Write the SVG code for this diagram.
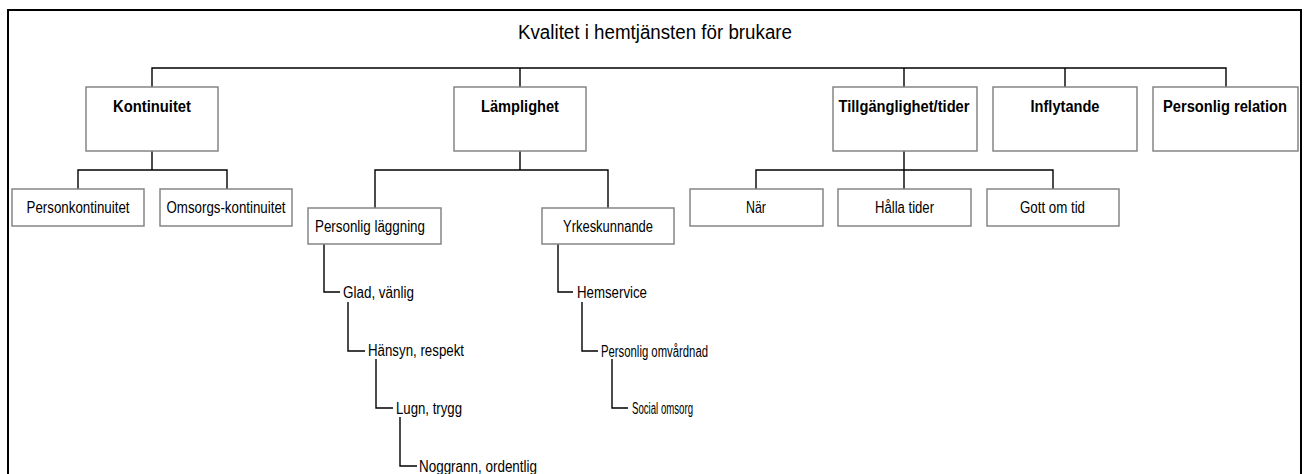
<svg xmlns="http://www.w3.org/2000/svg" width="1307" height="474" viewBox="0 0 1307 474">
<style>
.frame{fill:none;stroke:#000;stroke-width:2}
.box{fill:#fff;stroke:#858585;stroke-width:1.5}
.con{fill:none;stroke:#000;stroke-width:1.4}
text{font-family:"Liberation Sans",Arial,sans-serif;fill:#000}
.t{font-size:20px;text-anchor:middle}
.h{font-size:16px;font-weight:bold;text-anchor:middle}
.c{font-size:16px;text-anchor:middle}
.l{font-size:16px}
</style>
<rect class="frame" x="8" y="10" width="1293" height="480"/>
<text class="t" x="655" y="39" textLength="274" lengthAdjust="spacingAndGlyphs">Kvalitet i hemtjänsten för brukare</text>
<g id="connectors">
<path class="con" d="M152,87V68H1226V87M520,68V87M904,68V87M1065,68V87"/>
<path class="con" d="M152,151V170M78,189V170H227V189"/>
<path class="con" d="M520,151V170M375,208V170H608V208"/>
<path class="con" d="M904,151V189M756,189V170H1053V189"/>
<path class="con" d="M324,244V292H340M348,302V351H365M376,359V408H393M400,417V466H417"/>
<path class="con" d="M558,244V292H573M582,302V351H598M612,359V408H628"/>
</g>
<g id="kontinuitet"><rect class="box" x="86" y="87" width="132" height="64"/><text class="h" x="152" y="112" textLength="78" lengthAdjust="spacingAndGlyphs">Kontinuitet</text></g>
<g id="lamplighet"><rect class="box" x="454" y="87" width="132" height="64"/><text class="h" x="520" y="112" textLength="78" lengthAdjust="spacingAndGlyphs">Lämplighet</text></g>
<g id="tillganglighet"><rect class="box" x="833" y="87" width="144" height="64"/><text class="h" x="904" y="112" textLength="131" lengthAdjust="spacingAndGlyphs">Tillgänglighet/tider</text></g>
<g id="inflytande"><rect class="box" x="993" y="87" width="144" height="64"/><text class="h" x="1065" y="112" textLength="69" lengthAdjust="spacingAndGlyphs">Inflytande</text></g>
<g id="personlig-relation"><rect class="box" x="1153" y="87" width="145" height="64"/><text class="h" x="1225" y="112" textLength="124" lengthAdjust="spacingAndGlyphs">Personlig relation</text></g>
<g id="personkontinuitet"><rect class="box" x="12" y="189" width="132" height="37"/><text class="c" x="78" y="213" textLength="103" lengthAdjust="spacingAndGlyphs">Personkontinuitet</text></g>
<g id="omsorgs-kontinuitet"><rect class="box" x="160" y="189" width="132" height="37"/><text class="c" x="226" y="213" textLength="119" lengthAdjust="spacingAndGlyphs">Omsorgs-kontinuitet</text></g>
<g id="personlig-laggning"><rect class="box" x="308" y="208" width="133" height="36"/><text class="l" x="315" y="232" textLength="110" lengthAdjust="spacingAndGlyphs">Personlig läggning</text></g>
<g id="yrkeskunnande"><rect class="box" x="542" y="208" width="132" height="36"/><text class="c" x="608" y="232" textLength="90" lengthAdjust="spacingAndGlyphs">Yrkeskunnande</text></g>
<g id="nar"><rect class="box" x="690" y="189" width="133" height="37"/><text class="c" x="756" y="213" textLength="20" lengthAdjust="spacingAndGlyphs">När</text></g>
<g id="halla-tider"><rect class="box" x="838" y="189" width="133" height="37"/><text class="c" x="904.5" y="213" textLength="59" lengthAdjust="spacingAndGlyphs">Hålla tider</text></g>
<g id="gott-om-tid"><rect class="box" x="987" y="189" width="132" height="37"/><text class="c" x="1052.5" y="213" textLength="65" lengthAdjust="spacingAndGlyphs">Gott om tid</text></g>
<g id="glad"><text class="l" x="343" y="298" textLength="71" lengthAdjust="spacingAndGlyphs">Glad, vänlig</text></g>
<g id="hansyn"><text class="l" x="368" y="356" textLength="96" lengthAdjust="spacingAndGlyphs">Hänsyn, respekt</text></g>
<g id="lugn"><text class="l" x="396" y="414" textLength="66" lengthAdjust="spacingAndGlyphs">Lugn, trygg</text></g>
<g id="noggrann"><text class="l" x="419" y="472" textLength="118" lengthAdjust="spacingAndGlyphs">Noggrann, ordentlig</text></g>
<g id="hemservice"><text class="l" x="577" y="298" textLength="70" lengthAdjust="spacingAndGlyphs">Hemservice</text></g>
<g id="personlig-omvardnad"><text class="l" x="601" y="357" textLength="107" lengthAdjust="spacingAndGlyphs">Personlig omvårdnad</text></g>
<g id="social-omsorg"><text class="l" x="632" y="414" textLength="61" lengthAdjust="spacingAndGlyphs">Social omsorg</text></g>
</svg>
